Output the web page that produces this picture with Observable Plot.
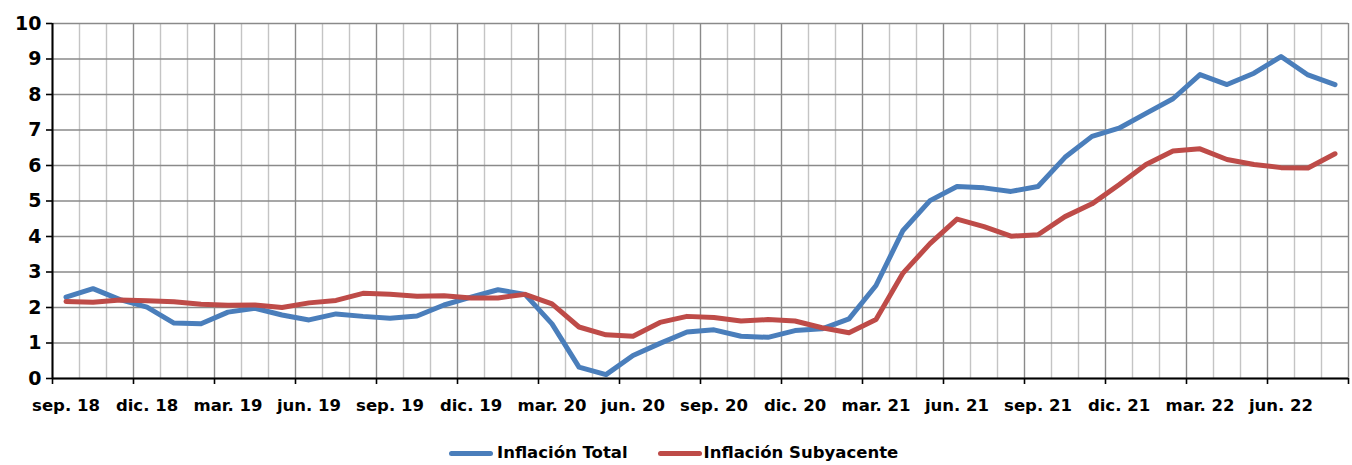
<!DOCTYPE html>
<html>
<head>
<meta charset="utf-8">
<script src="https://cdn.jsdelivr.net/npm/d3@7"></script>
<script src="https://cdn.jsdelivr.net/npm/@observablehq/plot@0.6"></script>
<style>
  html, body { margin: 0; padding: 0; background: #fff; }
  #chart { width: 1352px; height: 465px; overflow: hidden; font-family: "DejaVu Sans", sans-serif; }
  .legend { display: flex; align-items: center; padding-left: 449px; margin-top: 13px; font-weight: bold; font-size: 16.5px; line-height: 20px; color: #000; }
  .sw { display: inline-block; width: 44px; height: 5px; border-radius: 3px; }
  .item { display: flex; align-items: center; }
</style>
</head>
<body>
<div id="chart"></div>
<script>
// Period labels (monthly, sep. 2018 – ago. 2022)
const periods = [
  "sep. 18","oct. 18","nov. 18","dic. 18","ene. 19","feb. 19","mar. 19","abr. 19","may. 19","jun. 19","jul. 19","ago. 19",
  "sep. 19","oct. 19","nov. 19","dic. 19","ene. 20","feb. 20","mar. 20","abr. 20","may. 20","jun. 20","jul. 20","ago. 20",
  "sep. 20","oct. 20","nov. 20","dic. 20","ene. 21","feb. 21","mar. 21","abr. 21","may. 21","jun. 21","jul. 21","ago. 21",
  "sep. 21","oct. 21","nov. 21","dic. 21","ene. 22","feb. 22","mar. 22","abr. 22","may. 22","jun. 22","jul. 22","ago. 22"
];
// Series names
const seriesNames = ["Inflación Total", "Inflación Subyacente"];
// Inflación Total (%)
const total = [
  2.29, 2.53, 2.22, 2.01, 1.56, 1.54, 1.87, 1.98, 1.79, 1.65, 1.82, 1.75,
  1.70, 1.76, 2.07, 2.29, 2.50, 2.37, 1.54, 0.32, 0.11, 0.65, 0.99, 1.31,
  1.37, 1.19, 1.16, 1.35, 1.40, 1.68, 2.62, 4.17, 5.01, 5.41, 5.37, 5.27,
  5.41, 6.23, 6.82, 7.05, 7.47, 7.88, 8.56, 8.28, 8.60, 9.07, 8.55, 8.28
];
// Inflación Subyacente (%)
const subyacente = [
  2.17, 2.15, 2.21, 2.19, 2.16, 2.09, 2.06, 2.07, 2.00, 2.13, 2.20, 2.40,
  2.37, 2.32, 2.33, 2.27, 2.27, 2.37, 2.10, 1.45, 1.23, 1.19, 1.58, 1.75,
  1.72, 1.62, 1.66, 1.62, 1.43, 1.29, 1.66, 2.97, 3.80, 4.49, 4.28, 4.01,
  4.05, 4.56, 4.92, 5.46, 6.03, 6.41, 6.47, 6.17, 6.03, 5.94, 5.93, 6.33
];
// Y tick values
const yTicks = [0, 1, 2, 3, 4, 5, 6, 7, 8, 9, 10];
// Shown x tick labels (every third month)
const xTickLabels = ["sep. 18","dic. 18","mar. 19","jun. 19","sep. 19","dic. 19","mar. 20","jun. 20","sep. 20","dic. 20","mar. 21","jun. 21","sep. 21","dic. 21","mar. 22","jun. 22"];

const colors = ["#4A7EBB", "#BE4B48"];

const rows = [];
periods.forEach((p, i) => {
  rows.push({i, serie: seriesNames[0], v: total[i]});
  rows.push({i, serie: seriesNames[1], v: subyacente[i]});
});
const labelIdx = xTickLabels.map(l => periods.indexOf(l));
const bounds = d3.range(periods.length + 1).map(k => k - 0.5);
const majorB = bounds.filter((b, k) => k % 3 === 0);
const minorB = bounds.filter((b, k) => k % 3 !== 0);

const plot = Plot.plot({
  width: 1352,
  height: 430,
  marginLeft: 52,
  marginRight: 4,
  marginTop: 23,
  marginBottom: 52,
  x: {domain: [-0.5, periods.length - 0.5]},
  y: {domain: [0, 10]},
  color: {domain: seriesNames, range: colors},
  style: {fontFamily: "'DejaVu Sans', sans-serif", fontWeight: "bold", color: "#000", background: "#fff", overflow: "visible"},
  marks: [
    Plot.ruleX(minorB, {stroke: "#c4c4c4", strokeWidth: 1.4}),
    Plot.ruleX(majorB, {stroke: "#8a8a8a", strokeWidth: 1.4}),
    Plot.ruleY(yTicks, {stroke: "#8a8a8a", strokeWidth: 1.4}),
    Plot.axisY({ticks: yTicks, tickSize: 6, tickPadding: 5, fontSize: 19, fontWeight: "bold", strokeWidth: 1.6, label: null}),
    Plot.axisX({ticks: majorB, tickSize: 6, tickFormat: () => "", strokeWidth: 1.6, label: null}),
    Plot.axisX({ticks: labelIdx, tickSize: 0, tickPadding: 21, tickFormat: i => periods[i], fontSize: 16.5, fontWeight: "bold", label: null}),
    Plot.ruleX([-0.5], {stroke: "#000", strokeWidth: 2}),
    Plot.ruleY([0], {stroke: "#000", strokeWidth: 2}),
    Plot.line(rows, {x: "i", y: "v", z: "serie", stroke: "serie", strokeWidth: 5, strokeLinejoin: "round", strokeLinecap: "round"})
  ]
});

const chart = document.getElementById("chart");
chart.appendChild(plot);

const legend = document.createElement("div");
legend.className = "legend";
seriesNames.forEach((name, k) => {
  const item = document.createElement("span");
  item.className = "item";
  if (k > 0) item.style.marginLeft = "30px";
  const sw = document.createElement("span");
  sw.className = "sw";
  sw.style.background = colors[k];
  const t = document.createElement("span");
  t.textContent = name;
  t.style.marginLeft = k === 0 ? "4px" : "2px";
  item.appendChild(sw);
  item.appendChild(t);
  legend.appendChild(item);
});
chart.appendChild(legend);
</script>
</body>
</html>
